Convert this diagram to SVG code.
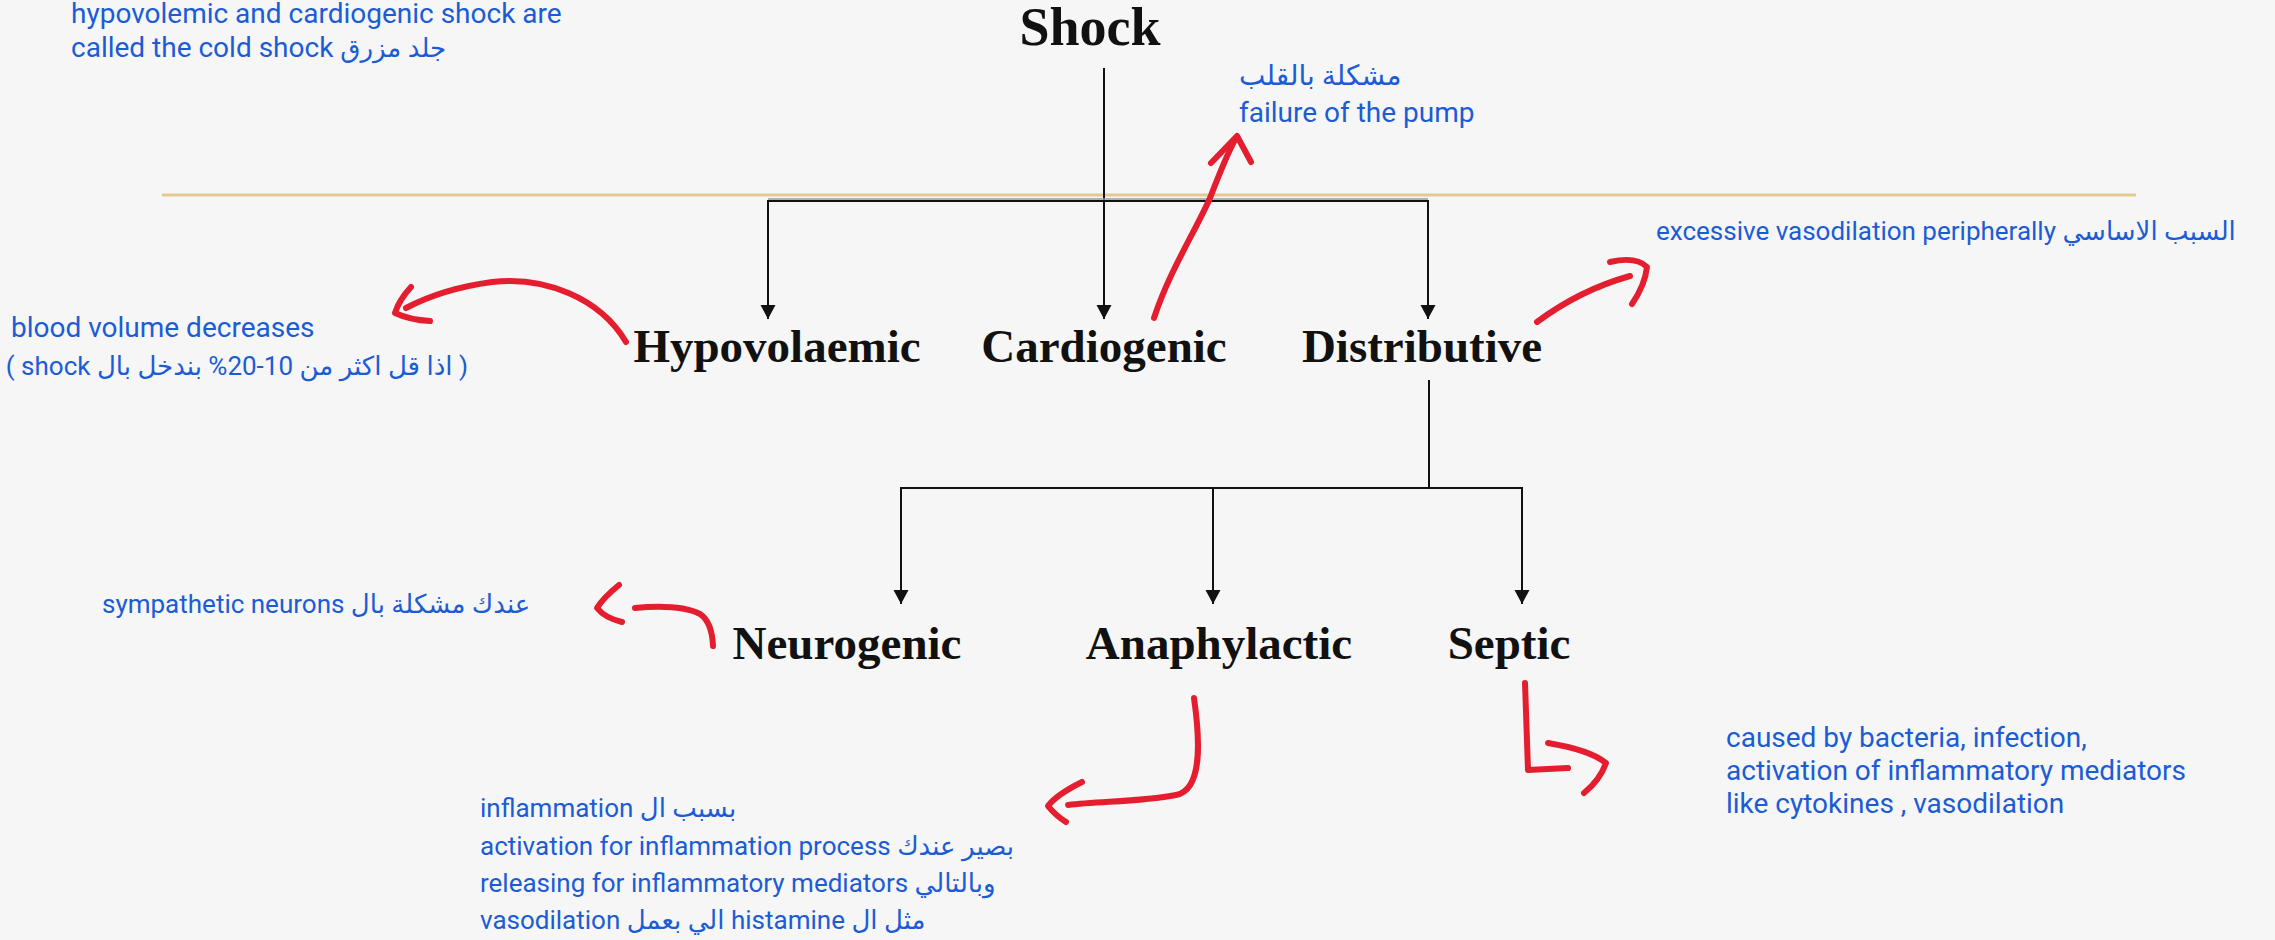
<svg xmlns="http://www.w3.org/2000/svg" width="2275" height="940" viewBox="0 0 2275 940">
<style>
.lbl{font-family:"Liberation Serif","Times New Roman",serif;font-weight:bold;font-size:47px;fill:#111;text-anchor:middle}
.title{font-family:"Liberation Serif","Times New Roman",serif;font-weight:bold;font-size:54px;fill:#111;text-anchor:middle}
.note{font-family:Roboto,"DejaVu Sans","Noto Sans",sans-serif;font-size:26px;fill:#1b5cd6}
.big{font-size:28px}
.ln{stroke:#111;stroke-width:2;fill:none}
.red{stroke:#e41e2f;stroke-width:6;fill:none;stroke-linecap:round;stroke-linejoin:round}
</style>
<defs>
<marker id="dn" markerUnits="userSpaceOnUse" markerWidth="16" markerHeight="16" viewBox="0 0 16 16" refX="8" refY="15" orient="0">
<path d="M0.5,1 L15.5,1 L8,15 Z" fill="#111"/>
</marker>
</defs>
<rect x="0" y="0" width="2275" height="940" fill="#f6f6f6"/>
<line x1="162" y1="195" x2="2136" y2="195" stroke="#e6c98e" stroke-width="3"/>

<g id="connectors">
<line class="ln" x1="1104" y1="68" x2="1104" y2="319" marker-end="url(#dn)"/>
<line x1="768" y1="199" x2="1428" y2="199" stroke="#999" stroke-width="1.5"/>
<polyline class="ln" points="768,319 768,201 1428,201 1428,319"/>
<line class="ln" x1="768" y1="301" x2="768" y2="319" marker-end="url(#dn)"/>
<line class="ln" x1="1428" y1="301" x2="1428" y2="319" marker-end="url(#dn)"/>
<line class="ln" x1="1429" y1="380" x2="1429" y2="488"/>
<polyline class="ln" points="901,604 901,488 1522,488 1522,604"/>
<line class="ln" x1="901" y1="585" x2="901" y2="604" marker-end="url(#dn)"/>
<line class="ln" x1="1213" y1="488" x2="1213" y2="604" marker-end="url(#dn)"/>
<line class="ln" x1="1522" y1="585" x2="1522" y2="604" marker-end="url(#dn)"/>
</g>

<g id="shock"><text class="title" x="1090" y="45">Shock</text></g>
<g id="hypovolaemic"><text class="lbl" x="777" y="362">Hypovolaemic</text></g>
<g id="cardiogenic"><text class="lbl" x="1104" y="362">Cardiogenic</text></g>
<g id="distributive"><text class="lbl" x="1422" y="362">Distributive</text></g>
<g id="neurogenic"><text class="lbl" x="847" y="659">Neurogenic</text></g>
<g id="anaphylactic"><text class="lbl" x="1219" y="659">Anaphylactic</text></g>
<g id="septic"><text class="lbl" x="1509" y="659">Septic</text></g>

<g id="annotation-arrows">
<path class="red" d="M626,342 C600,298 545,276 492,282 C455,287 425,298 406,308"/>
<path class="red" d="M411,287 Q399,300 395,313 Q410,320 430,321"/>
<path class="red" d="M1154,318 C1170,270 1195,232 1210,198 C1220,172 1228,152 1236,138"/>
<path class="red" d="M1211,163 L1237,136 L1251,162"/>
<path class="red" d="M1537,322 Q1580,290 1630,276"/>
<path class="red" d="M1610,262 Q1636,256 1647,267 Q1645,285 1632,304"/>
<path class="red" d="M713,646 Q712,622 700,614 Q680,604 635,608"/>
<path class="red" d="M619,585 Q603,598 597,608 Q605,618 622,622"/>
<path class="red" d="M1194,698 C1200,740 1203,790 1176,795 C1140,802 1100,801 1068,805"/>
<path class="red" d="M1082,782 Q1056,795 1048,806 Q1055,815 1066,822"/>
<path class="red" d="M1525,683 L1528,770 L1568,768"/>
<path class="red" d="M1548,743 Q1590,750 1606,763 Q1600,780 1584,793"/>
</g>

<g id="notes">
<text class="note big" x="71" y="23">hypovolemic and cardiogenic shock are</text>
<text class="note big" x="71" y="57">called the cold shock <tspan font-size="26">جلد مزرق</tspan></text>
<text class="note big" x="1239" y="85">مشكلة بالقلب</text>
<text class="note big" x="1239" y="122">failure of the pump</text>
<text class="note" x="1656" y="240">excessive vasodilation peripherally السبب الاساسي</text>
<text class="note big" x="11" y="337">blood volume decreases</text>
<text class="note" x="468" y="375" direction="rtl" unicode-bidi="embed" text-anchor="start">( اذا قل اكثر من 10-20% بندخل بال shock )</text>
<text class="note" x="102" y="613">sympathetic neurons عندك مشكلة بال</text>
<text class="note" x="480" y="817">inflammation بسبب ال</text>
<text class="note" x="480" y="855">activation for inflammation process بصير عندك</text>
<text class="note" x="480" y="892">releasing for inflammatory mediators وبالتالي</text>
<text class="note" x="480" y="929">vasodilation الي بعمل histamine مثل ال</text>
<text class="note big" x="1726" y="747">caused by bacteria, infection,</text>
<text class="note big" x="1726" y="780">activation of inflammatory mediators</text>
<text class="note big" x="1726" y="813">like cytokines , vasodilation</text>
</g>
</svg>
